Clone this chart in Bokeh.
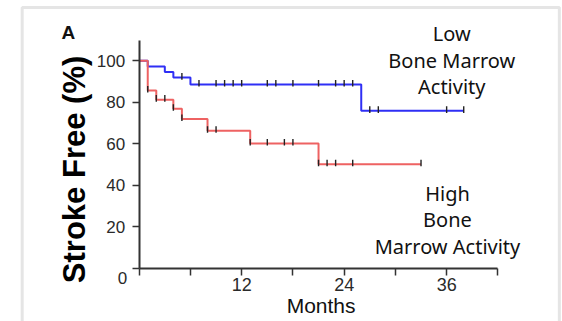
import numpy as np
from bokeh.plotting import figure
from bokeh.models import Range1d, FixedTicker, Label, BoxAnnotation, ColumnDataSource
from bokeh.embed import file_html
from bokeh.resources import INLINE

# ---- data ----
low_times = [0, 1, 3, 4, 6, 26, 38]
low_surv = [100, 97.3, 94.6, 91.9, 88.6, 75.9, 75.9]
low_censor = [5, 7, 9, 10, 11, 12, 15, 16, 18, 21, 23, 24, 25, 27, 28, 36, 38]

high_times = [0, 1, 2, 4, 5, 8, 13, 21, 33]
high_surv = [100, 85.7, 81.3, 76.9, 72.0, 66.3, 60.2, 50.2, 50.2]
high_censor = [1, 2, 3, 4, 5, 8, 9, 13, 15, 17, 18, 21, 22, 23, 25, 33]

x_ticks = [0, 6, 12, 18, 24, 30, 36, 42]
x_tick_labels = {0: "", 6: "", 12: "12", 18: "", 24: "24", 30: "", 36: "36", 42: ""}
y_ticks = [0, 20, 40, 60, 80, 100]

low_lines = ["Low", "Bone Marrow", "Activity"]
high_lines = ["High", "Bone", "Marrow Activity"]

BLUE = "#2f2ff5"
RED = "#ee6262"
AX = "#333333"
TXT = "#2a2a2a"

# frame covers the whole canvas; axes sit at fixed data locations
PXM = 8.54      # pixels per month
PXV = 2.077     # pixels per percent
X0, Y0 = 138.7, 268.0
W, H = 562, 321

p = figure(width=W, height=H, output_backend="svg", toolbar_location=None,
           x_range=Range1d(-X0 / PXM, (W - X0) / PXM),
           y_range=Range1d(-(H - Y0) / PXV, Y0 / PXV),
           min_border=0)
p.background_fill_color = "white"
p.border_fill_color = "white"
p.outline_line_color = None
p.grid.visible = False

for ax in (p.xaxis[0], p.yaxis[0]):
    ax.fixed_location = 0
    ax.axis_line_color = AX
    ax.axis_line_width = 2
    ax.major_tick_line_color = AX
    ax.major_tick_line_width = 1.5
    ax.major_tick_in = 0
    ax.major_tick_out = 7
    ax.minor_tick_line_color = None
    ax.major_label_text_color = TXT
    ax.major_label_text_font = "Liberation Sans"

p.xaxis.ticker = FixedTicker(ticks=x_ticks)
p.xaxis.major_label_overrides = x_tick_labels
p.xaxis.major_label_standoff = 2
p.xaxis.major_label_text_font_size = "18px"
p.xaxis.bounds = (0, 42)
p.yaxis.ticker = FixedTicker(ticks=y_ticks)
p.yaxis.major_label_overrides = {0: ""}
p.yaxis.major_label_standoff = 7
p.yaxis.major_label_text_font_size = "17px"
p.yaxis.bounds = (0, 110)


def step_value(times, surv, t):
    i = np.searchsorted(np.array(times), t, side="right") - 1
    return surv[i]


for times, surv, cens, col in ((low_times, low_surv, low_censor, BLUE),
                               (high_times, high_surv, high_censor, RED)):
    p.step(times, surv, mode="after", line_color=col, line_width=2)
    cy = [step_value(times, surv, t) for t in cens]
    src = ColumnDataSource(dict(x=cens, y0=[v - 1.0 for v in cy], y1=[v + 2.2 for v in cy]))
    p.segment(x0="x", y0="y0", x1="x", y1="y1", source=src, line_color="#222222", line_width=1.4)

# frame border of the panel
p.add_layout(BoxAnnotation(left=-13.7, right=49.2, top=125.7, bottom=-60,
                           fill_alpha=0, line_color="#a8a8a8", line_width=3))

p.add_layout(Label(x=-8.3, y=113.5, text="A", text_font="Liberation Sans", text_font_style="bold",
                   text_font_size="19px", text_align="center", text_baseline="middle", text_color="#111111"))
p.add_layout(Label(x=-7.63, y=47.7, text="Stroke Free (%)", angle=np.pi / 2,
                   text_font="Liberation Sans", text_font_style="bold", text_font_size="31px",
                   text_align="center", text_baseline="middle", text_color="#000000"))
p.add_layout(Label(x=-1.95, y=-4.8, text="0", text_font="Liberation Sans", text_font_size="17px",
                   text_align="center", text_baseline="middle", text_color=TXT))
p.add_layout(Label(x=21.3, y=-17.8, text="Months", text_font="Liberation Sans", text_font_size="21px",
                   text_align="center", text_baseline="middle", text_color="#111111"))

for txt, yv in zip(low_lines, [113.1, 100.1, 87.6]):
    p.add_layout(Label(x=36.6, y=yv, text=txt, text_font="Noto Sans", text_font_size="20px",
                       text_align="center", text_baseline="middle", text_color="#111111"))
for txt, yv in zip(high_lines, [36.1, 23.6, 10.6]):
    p.add_layout(Label(x=36.1, y=yv, text=txt, text_font="Noto Sans", text_font_size="20px",
                       text_align="center", text_baseline="middle", text_color="#111111"))

open("out.html", "w").write(file_html(p, INLINE))
